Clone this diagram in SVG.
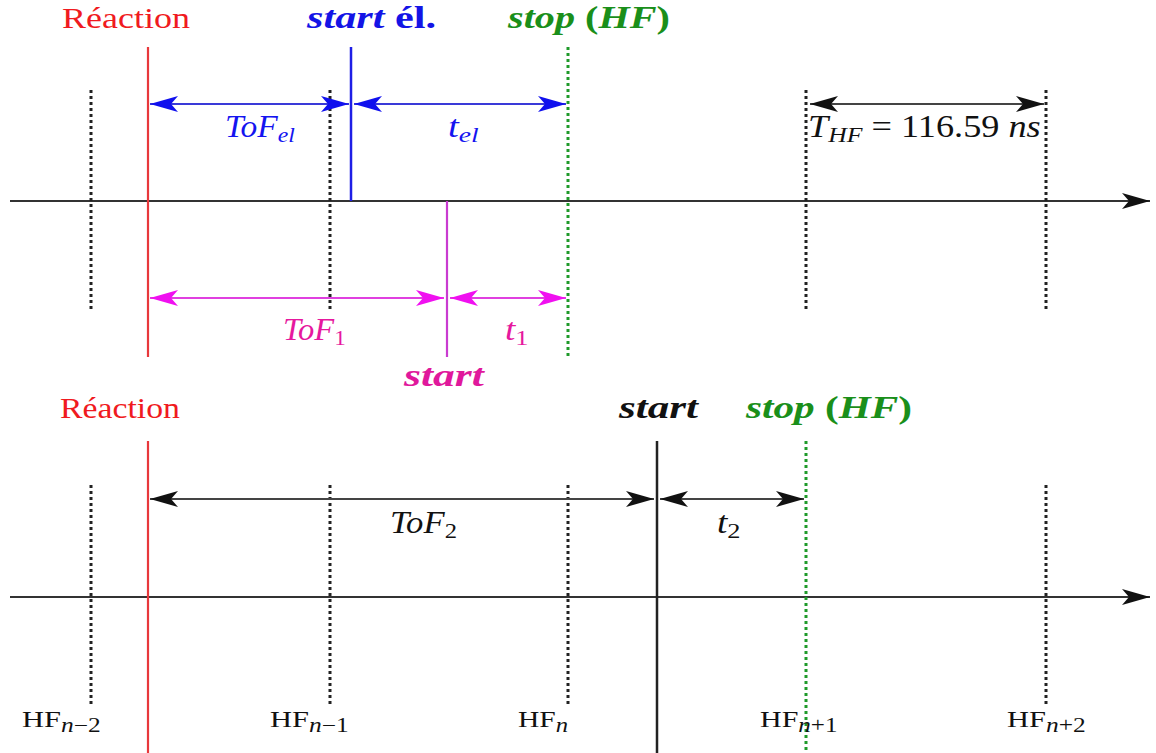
<svg xmlns="http://www.w3.org/2000/svg" width="1156" height="753" viewBox="0 0 1156 753">
<defs>
<style>
.it{font-style:italic;}
.bf{font-weight:bold;}
.up{font-style:normal;}
.axis{stroke:#333;stroke-width:2.2;fill:none;}
.dot{stroke:#222;stroke-width:3;stroke-dasharray:3 3;fill:none;}
.gdot{stroke:#1f9a2a;stroke-width:3;stroke-dasharray:3 3;fill:none;}
.red{stroke:#e8383c;stroke-width:2.2;fill:none;}
.blue{stroke:#1f1fe6;stroke-width:2.5;fill:none;}
.mag{stroke:#c93bd0;stroke-width:2.2;fill:none;}
.blk{stroke:#222;stroke-width:2.5;fill:none;}
.ab{stroke:#3a3ad8;stroke-width:2.2;fill:none;marker-start:url(#hb);marker-end:url(#hb);}
.am{stroke:#e040e0;stroke-width:2.2;fill:none;marker-start:url(#hm);marker-end:url(#hm);}
.ak{stroke:#444;stroke-width:2.2;fill:none;marker-start:url(#hk);marker-end:url(#hk);}
</style>
<marker id="hb" markerUnits="userSpaceOnUse" viewBox="0 0 28 16" refX="28" refY="8" markerWidth="28" markerHeight="16" orient="auto-start-reverse"><path d="M0,0 L28,8 L0,16 L7,8 Z" fill="#1010ee"/></marker>
<marker id="hm" markerUnits="userSpaceOnUse" viewBox="0 0 28 16" refX="28" refY="8" markerWidth="28" markerHeight="16" orient="auto-start-reverse"><path d="M0,0 L28,8 L0,16 L7,8 Z" fill="#f010f0"/></marker>
<marker id="hk" markerUnits="userSpaceOnUse" viewBox="0 0 28 16" refX="28" refY="8" markerWidth="28" markerHeight="16" orient="auto-start-reverse"><path d="M0,0 L28,8 L0,16 L7,8 Z" fill="#111"/></marker>
</defs>
<rect width="1156" height="753" fill="#fff"/>

<g id="top-panel" font-family="Liberation Serif">
  <g id="top-axis"><line class="axis" x1="10" y1="201" x2="1150" y2="201" style="marker-end:url(#hk)"/></g>
  <g id="top-hf-ticks">
    <line class="dot" x1="91" y1="90" x2="91" y2="312"/>
    <line class="dot" x1="330" y1="90" x2="330" y2="312"/>
    <line class="dot" x1="806" y1="90" x2="806" y2="312"/>
    <line class="dot" x1="1046" y1="90" x2="1046" y2="312"/>
  </g>
  <g id="top-reaction">
    <line class="red" x1="148" y1="47" x2="148" y2="357"/>
    <text transform="translate(62,28) scale(1.2,1)" font-family="Liberation Serif" font-size="30" fill="#f01a20">Réaction</text>
  </g>
  <g id="top-start-el">
    <line class="blue" x1="351" y1="47" x2="351" y2="201"/>
    <text transform="translate(307,28) scale(1.32,1)" font-family="Liberation Serif" font-size="32" fill="#1414e6" class="bf"><tspan class="it">start</tspan> él.</text>
  </g>
  <g id="top-stop">
    <line class="gdot" x1="568" y1="47" x2="568" y2="357"/>
    <text transform="translate(508,28) scale(1.257,1)" font-family="Liberation Serif" font-size="32" fill="#1a8f1a" class="bf"><tspan class="it">stop</tspan> (<tspan class="it">HF</tspan>)</text>
  </g>
  <g id="top-start">
    <line class="mag" x1="447" y1="201" x2="447" y2="357"/>
    <text transform="translate(404,386) scale(1.36,1)" font-family="Liberation Serif" font-size="32" fill="#e0189c" class="bf it">start</text>
  </g>
</g>

<g id="bottom-panel" font-family="Liberation Serif">
  <g id="bottom-axis"><line class="axis" x1="10" y1="597" x2="1150" y2="597" style="marker-end:url(#hk)"/></g>
  <g id="bottom-hf-ticks">
    <line class="dot" x1="91" y1="485" x2="91" y2="705"/>
    <line class="dot" x1="330" y1="485" x2="330" y2="705"/>
    <line class="dot" x1="568" y1="485" x2="568" y2="705"/>
    <line class="dot" x1="1046" y1="485" x2="1046" y2="705"/>
  </g>
  <g id="bottom-reaction">
    <line class="red" x1="148" y1="441" x2="148" y2="753"/>
    <text transform="translate(60,418) scale(1.164,1)" font-family="Liberation Serif" font-size="29" fill="#f01a20">Réaction</text>
  </g>
  <g id="bottom-start">
    <line class="blk" x1="657" y1="441" x2="657" y2="753"/>
    <text transform="translate(619,418) scale(1.346,1)" font-family="Liberation Serif" font-size="32" fill="#111" class="bf it">start</text>
  </g>
  <g id="bottom-stop">
    <line class="gdot" x1="806" y1="441" x2="806" y2="753"/>
    <text transform="translate(746,418) scale(1.288,1)" font-family="Liberation Serif" font-size="32" fill="#1a8f1a" class="bf"><tspan class="it">stop</tspan> (<tspan class="it">HF</tspan>)</text>
  </g>
  <g id="hf-labels" fill="#111" font-size="24" font-family="Liberation Serif">
    <text transform="translate(22,727) scale(1.27,1)">HF<tspan class="it" font-size="20" dy="5">n</tspan><tspan font-size="20">−2</tspan></text>
    <text transform="translate(270,727) scale(1.27,1)">HF<tspan class="it" font-size="20" dy="5">n</tspan><tspan font-size="20">−1</tspan></text>
    <text transform="translate(518,727) scale(1.23,1)">HF<tspan class="it" font-size="20" dy="5">n</tspan></text>
    <text transform="translate(760,727) scale(1.25,1)">HF<tspan class="it" font-size="20" dy="5">n</tspan><tspan font-size="20">+1</tspan></text>
    <text transform="translate(1007,727) scale(1.27,1)">HF<tspan class="it" font-size="20" dy="5">n</tspan><tspan font-size="20">+2</tspan></text>
  </g>
</g>

<g id="connectors">
  <line class="ab" x1="150" y1="104" x2="349" y2="104"/>
  <line class="ab" x1="354" y1="104" x2="566" y2="104"/>
  <line class="ak" x1="810" y1="104" x2="1044" y2="104"/>
  <line class="am" x1="150" y1="298" x2="444" y2="298"/>
  <line class="am" x1="450" y1="298" x2="566" y2="298"/>
  <line class="ak" x1="150" y1="499" x2="654" y2="499"/>
  <line class="ak" x1="660" y1="499" x2="804" y2="499"/>
</g>

<g id="connector-labels" font-family="Liberation Serif">
  <text transform="translate(225,137) scale(1.08,1)" font-family="Liberation Serif" font-size="31" fill="#1414f0" class="it">ToF<tspan font-size="22" dy="5">el</tspan></text>
  <text transform="translate(448,137) scale(1.25,1)" font-family="Liberation Serif" font-size="31" fill="#1414f0" class="it">t<tspan font-size="22" dy="5">el</tspan></text>
  <text transform="translate(808,137) scale(1.17,1)" font-family="Liberation Serif" font-size="31" fill="#111"><tspan class="it">T</tspan><tspan class="it" font-size="22" dy="5">HF</tspan><tspan dy="-5"> = 116.59 </tspan><tspan class="it">ns</tspan></text>
  <text transform="translate(283,340) scale(1.05,1)" font-family="Liberation Serif" font-size="31" fill="#e6189e" class="it">ToF<tspan font-size="22" dy="5" class="up">1</tspan></text>
  <text transform="translate(505,340) scale(1.2,1)" font-family="Liberation Serif" font-size="31" fill="#e6189e" class="it">t<tspan font-size="22" dy="5" class="up">1</tspan></text>
  <text transform="translate(390,533) scale(1.12,1)" font-family="Liberation Serif" font-size="31" fill="#111" class="it">ToF<tspan font-size="22" dy="5" class="up">2</tspan></text>
  <text transform="translate(717,533) scale(1.2,1)" font-family="Liberation Serif" font-size="31" fill="#111" class="it">t<tspan font-size="22" dy="5" class="up">2</tspan></text>
</g>
</svg>
